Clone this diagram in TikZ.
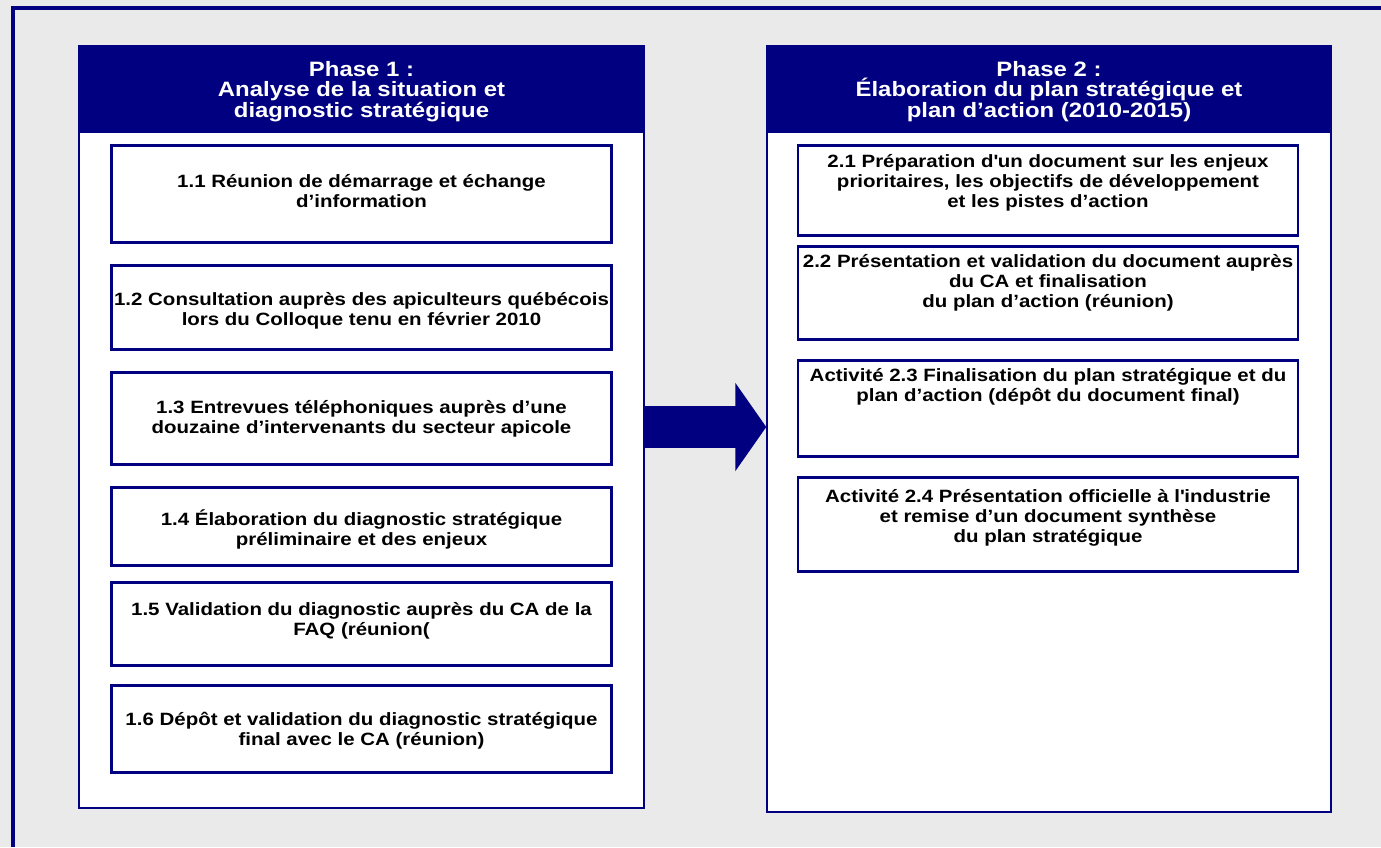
\documentclass[tikz,border=0pt]{standalone}
\usepackage{fontspec}
\setmainfont{Liberation Sans}[FakeStretch=1.15]
\usetikzlibrary{arrows.meta}
\definecolor{navy}{RGB}{0,0,128}
\definecolor{bggray}{RGB}{234,234,234}

\begin{document}
\begin{tikzpicture}[x=1pt,y=-1pt,
    phase/.style={draw=navy,line width=1.5,fill=white,inner sep=0},
    head/.style={fill=navy,text=white,inner sep=0,anchor=north,align=center,
      text height=72pt,text depth=16pt,font=\bfseries\fontsize{20.8}{20.5}\selectfont},
    task/.style={draw=navy,line width=2.5,fill=white,inner sep=0,anchor=north,
      align=center,minimum width=500,font=\bfseries\fontsize{17.8}{20}\selectfont}]
  \fill[bggray] (0,0) rectangle (1381,847);
  \useasboundingbox (0,0) rectangle (1381,847);
  \draw[navy,line width=4] (13,847) -- (13,8) -- (1381,8);

  \node[phase,minimum width=565,minimum height=762] (P1) at (361.5,427) {};
  \node[phase,minimum width=564,minimum height=766] (P2) at (1049,429) {};
  \node[head,minimum width=565] (H1) at (P1.north) {Phase 1 :\\Analyse de la situation et\\diagnostic stratégique};
  \node[head,minimum width=564] (H2) at (P2.north) {Phase 2 :\\Élaboration du plan stratégique et\\plan d’action (2010-2015)};

  \node[task,text height=62pt,text depth=35pt] (T11) at (361.5,144) {1.1 Réunion de démarrage et échange\\d’information};
  \node[task,text height=60pt,text depth=24pt] (T12) at (361.5,264) {1.2 Consultation auprès des apiculteurs québécois\\lors du Colloque tenu en février 2010};
  \node[task,text height=61pt,text depth=31pt] (T13) at (361.5,371) {1.3 Entrevues téléphoniques auprès d’une\\douzaine d’intervenants du secteur apicole};
  \node[task,text height=58pt,text depth=20pt] (T14) at (361.5,486) {1.4 Élaboration du diagnostic stratégique\\préliminaire et des enjeux};
  \node[task,text height=53pt,text depth=30pt] (T15) at (361.5,581) {1.5 Validation du diagnostic auprès du CA de la\\FAQ (réunion(};
  \node[task,text height=60pt,text depth=27pt] (T16) at (361.5,684) {1.6 Dépôt et validation du diagnostic stratégique\\final avec le CA (réunion)};

  \node[task,text height=62pt,text depth=28pt] (T21) at (1048,144) {2.1 Préparation d\textquotesingle un document sur les enjeux\\prioritaires, les objectifs de développement\\et les pistes d’action};
  \node[task,text height=61pt,text depth=32pt] (T22) at (1048,245) {2.2 Présentation et validation du document auprès\\du CA et finalisation\\du plan d’action (réunion)};
  \node[task,text height=41pt,text depth=55pt] (T23) at (1048,359) {Activité 2.3 Finalisation du plan stratégique et du\\plan d’action (dépôt du document final)};
  \node[task,text height=65pt,text depth=29pt] (T24) at (1048,476) {Activité 2.4 Présentation officielle à l\textquotesingle industrie\\et remise d’un document synthèse\\du plan stratégique};

  \draw[navy,line width=42,-{Triangle[length=31pt,width=87pt]}] (P1.east) -- (P1.east -| P2.west);
\end{tikzpicture}
\end{document}
